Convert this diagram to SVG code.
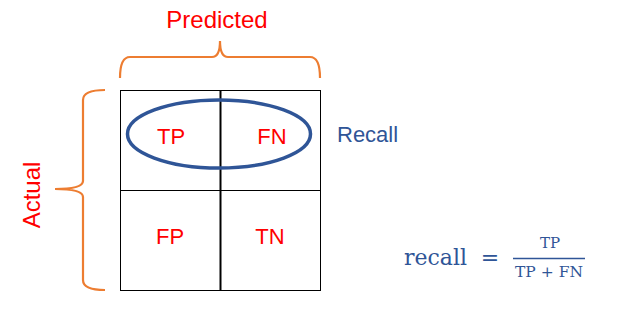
<svg xmlns="http://www.w3.org/2000/svg" width="633" height="333" viewBox="0 0 633 333">
<style>
.lbl{font-family:"Liberation Sans",Arial,sans-serif;font-size:22px;fill:#FF0000;text-anchor:middle}
.big{font-size:24px}
.blue{font-family:"Liberation Sans",Arial,sans-serif;font-size:22px;fill:#2F5597}
.math{font-family:"DejaVu Serif","Liberation Serif",serif;fill:#2F5597}
.brace{fill:none;stroke:#ED7D31;stroke-width:2.2}
</style>
<rect width="633" height="333" fill="#fff"/>
<g id="grid">
<rect x="120.5" y="90.5" width="200" height="200" fill="none" stroke="#000" stroke-width="1"/>
<line x1="120" y1="190.5" x2="320" y2="190.5" stroke="#000" stroke-width="1"/>
<line x1="220.5" y1="90" x2="220.5" y2="290" stroke="#000" stroke-width="2"/>
</g>
<g id="tp"><text class="lbl" x="171" y="144">TP</text></g>
<g id="fn"><text class="lbl" x="272" y="144">FN</text></g>
<g id="fp"><text class="lbl" x="170" y="244">FP</text></g>
<g id="tn"><text class="lbl" x="270" y="244">TN</text></g>
<g id="ellipse"><ellipse cx="219" cy="134" rx="91.5" ry="34" fill="none" stroke="#2F5597" stroke-width="3.5"/></g>
<g id="predicted">
<path class="brace" d="M120,78 Q120,57 130,57 L212,57 Q220,57 220,41 Q220,57 228,57 L310,57 Q320,57 320,78"/>
<text class="lbl big" x="217" y="28">Predicted</text>
</g>
<g id="actual">
<path class="brace" d="M105,90 Q83,90 83,100 L83,181 Q83,189 55,189 Q83,189 83,197 L83,280 Q83,290 105,290"/>
<text class="lbl big" transform="translate(40,195) rotate(-90)">Actual</text>
</g>
<g id="recall"><text class="blue" x="337" y="142">Recall</text></g>
<g id="formula">
<text class="math" x="404" y="265" font-size="22">recall</text>
<text class="math" x="490" y="265" font-size="22" text-anchor="middle">=</text>
<text class="math" x="550" y="248" font-size="15" text-anchor="middle">TP</text>
<line x1="513" y1="258.5" x2="585" y2="258.5" stroke="#2F5597" stroke-width="1.5"/>
<text class="math" x="549" y="277" font-size="15.5" text-anchor="middle">TP + FN</text>
</g>
</svg>
